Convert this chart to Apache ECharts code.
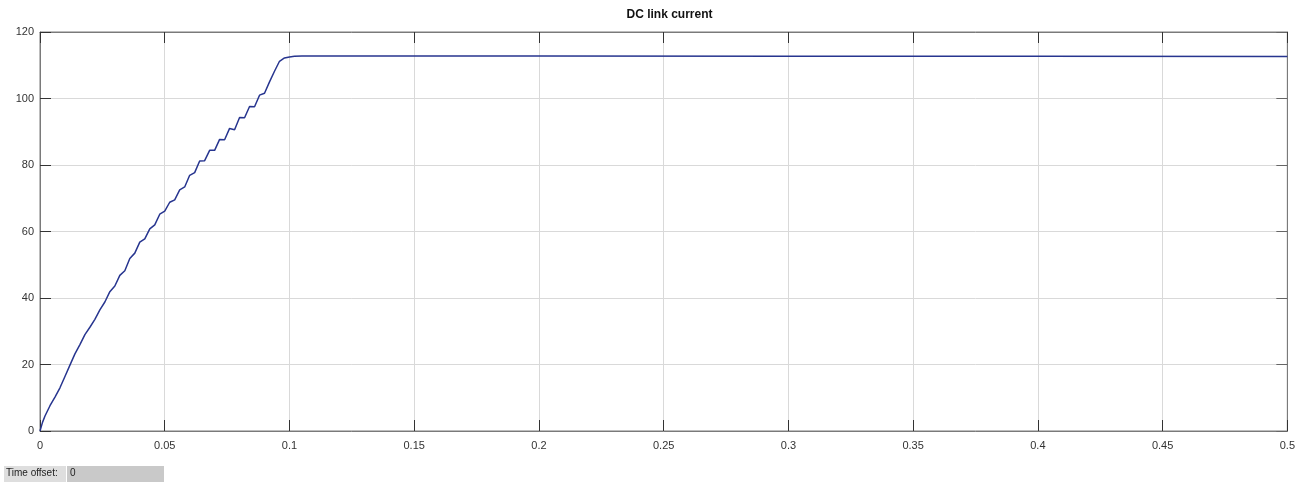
<!DOCTYPE html>
<html>
<head>
<meta charset="utf-8">
<script src="https://cdn.jsdelivr.net/npm/echarts@6/dist/echarts.min.js"></script>
<style>html,body{margin:0;padding:0;background:#fff;}#c{width:1298px;height:484px;}</style>
</head>
<body>
<div id="c"></div>
<script>
const titleText = 'DC link current';
const timeValues = [0,0.001,0.002,0.004,0.006,0.008,0.010,0.012,0.014,0.016,0.018,0.020,0.022,0.024,0.026,0.028,0.030,0.032,0.034,0.036,0.038,0.040,0.042,0.044,0.046,0.048,0.050,0.052,0.054,0.056,0.058,0.060,0.062,0.064,0.066,0.068,0.070,0.072,0.074,0.076,0.078,0.080,0.082,0.084,0.086,0.088,0.090,0.092,0.094,0.096,0.098,0.100,0.102,0.105,0.15,0.2,0.3,0.4,0.5];
const currentValues = [0,2.6,4.5,7.6,10.2,13.0,16.4,19.8,23.2,26.0,29.0,31.2,33.6,36.4,38.8,41.9,43.6,46.8,48.2,51.9,53.5,56.8,57.8,60.8,62.0,65.2,66.1,68.8,69.5,72.5,73.4,76.9,77.7,81.2,81.3,84.4,84.4,87.7,87.6,91.0,90.6,94.3,94.2,97.6,97.5,101.0,101.6,105.0,108.2,111.2,112.2,112.5,112.7,112.8,112.8,112.8,112.7,112.7,112.6];
const xTicks = {min: 0, max: 0.5, interval: 0.05};
const yTicks = {min: 0, max: 120, interval: 20};
const offsetLabel = 'Time offset:';
const offsetValue = '0';

const data = timeValues.map((t, i) => [t, currentValues[i]]);
const font = 'Liberation Sans, Arial, sans-serif';
const chart = echarts.init(document.getElementById('c'), null, {renderer: 'canvas'});
const tickStyle = {show: true, inside: true, length: 11, lineStyle: {color: '#333', width: 1}};
chart.setOption({
  animation: false,
  backgroundColor: '#fff',
  title: {
    text: titleText, left: 664.5, top: 4, textAlign: 'center',
    textStyle: {fontFamily: font, fontSize: 12, fontWeight: 'bold', color: '#111'}
  },
  grid: {left: 40, right: 9, top: 32, bottom: 53, show: true, borderColor: '#7a7a7a', borderWidth: 1, backgroundColor: '#fff'},
  xAxis: [{
    type: 'value', gridIndex: 0, min: xTicks.min, max: xTicks.max, interval: xTicks.interval,
    axisLine: {show: true, onZero: false, lineStyle: {color: '#7a7a7a'}},
    axisTick: tickStyle,
    axisLabel: {fontFamily: font, fontSize: 11, color: '#333', margin: 9,
      formatter: v => String(Math.round(v * 100) / 100)},
    splitLine: {show: true, lineStyle: {color: '#d9d9d9', width: 1}}
  }, {
    type: 'value', gridIndex: 0, position: 'top', min: xTicks.min, max: xTicks.max, interval: xTicks.interval,
    axisLine: {show: true, onZero: false, lineStyle: {color: '#7a7a7a'}},
    axisTick: tickStyle, axisLabel: {show: false}, splitLine: {show: false}
  }],
  yAxis: [{
    type: 'value', gridIndex: 0, min: yTicks.min, max: yTicks.max, interval: yTicks.interval,
    axisLine: {show: true, onZero: false, lineStyle: {color: '#7a7a7a'}},
    axisTick: tickStyle,
    axisLabel: {fontFamily: font, fontSize: 11, color: '#333', margin: 6},
    splitLine: {show: true, lineStyle: {color: '#d9d9d9', width: 1}}
  }, {
    type: 'value', gridIndex: 0, position: 'right', min: yTicks.min, max: yTicks.max, interval: yTicks.interval,
    axisLine: {show: true, onZero: false, lineStyle: {color: '#7a7a7a'}},
    axisTick: {show: true, inside: true, length: 11, lineStyle: {color: '#666', width: 1}},
    axisLabel: {show: false}, splitLine: {show: false}
  }],
  series: [{
    type: 'line', xAxisIndex: 0, yAxisIndex: 0, data: data, showSymbol: false, smooth: false,
    lineStyle: {color: '#27358f', width: 1.5}, z: 5
  }],
  graphic: [
    {type: 'rect', left: 4, top: 466, shape: {width: 62, height: 16}, style: {fill: '#dedede'}},
    {type: 'rect', left: 67, top: 466, shape: {width: 97, height: 16}, style: {fill: '#c9c9c9'}},
    {type: 'text', left: 6, top: 468, style: {text: offsetLabel, fontFamily: font, fontSize: 10, fill: '#222'}},
    {type: 'text', left: 70, top: 468, style: {text: offsetValue, fontFamily: font, fontSize: 10, fill: '#222'}}
  ]
});
</script>
</body>
</html>
